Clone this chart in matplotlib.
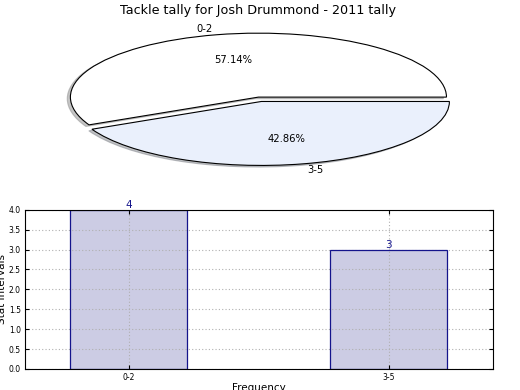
import matplotlib
matplotlib.use("Agg")
import matplotlib.pyplot as plt

# data
categorias = ['0-2', '3-5']
contagens = [4, 3]
cores_pizza = ['#ffffff', '#eaf0fc']
explodir = [0, 0.07]

fig = plt.figure(figsize=(5.2, 3.9), dpi=100)

# --- pizza ---
ax1 = fig.add_axes([0.045, 0.546, 0.904, 0.41])
ax1.pie(contagens, labels=categorias, colors=cores_pizza, explode=explodir,
        autopct='%1.2f%%', shadow={'ox': -0.012, 'oy': -0.018, 'shade': 0.45},
        startangle=0,
        wedgeprops=dict(edgecolor='black', linewidth=0.8),
        textprops=dict(fontsize=7.2))
ax1.set_aspect('auto')
ax1.set_xlim(-1.25, 1.25)
ax1.set_ylim(-1.25, 1.25)
ax1.set_title('Tackle tally for Josh Drummond - 2011 tally', fontsize=9.2, pad=1)

# --- barras ---
ax2 = fig.add_axes([0.048, 0.054, 0.9, 0.408])
x = list(range(len(categorias)))
# preenchimento abaixo da grade, contorno por cima
ax2.bar(x, contagens, width=0.45, color='#ccccE4', linewidth=0, zorder=1)
ax2.bar(x, contagens, width=0.45, fill=False, edgecolor='#14148c', linewidth=0.9, zorder=4)
for xi, v in zip(x, contagens):
    ax2.text(xi, v, str(v), ha='center', va='bottom', color='#14148c', fontsize=7.5)
ax2.set_xlim(-0.4, 1.4)
ax2.set_ylim(0, 4)
ax2.set_yticks([i * 0.5 for i in range(9)])
ax2.set_yticklabels([f'{i * 0.5:.1f}' for i in range(9)])
ax2.set_xticks(x)
ax2.set_xticklabels(categorias)
ax2.tick_params(labelsize=5.5, direction='in', length=3, top=True, right=True, pad=3)
ax2.grid(True, linestyle=(0, (1, 2)), color='#b0b0b0', linewidth=0.8, zorder=2)
for s in ax2.spines.values():
    s.set_zorder(5)
ax2.set_xlabel('Frequency', fontsize=7.5, labelpad=1)
ax2.set_ylabel('Stat Intervals', fontsize=7.5, labelpad=1)

fig.savefig('out.png', dpi=100)
